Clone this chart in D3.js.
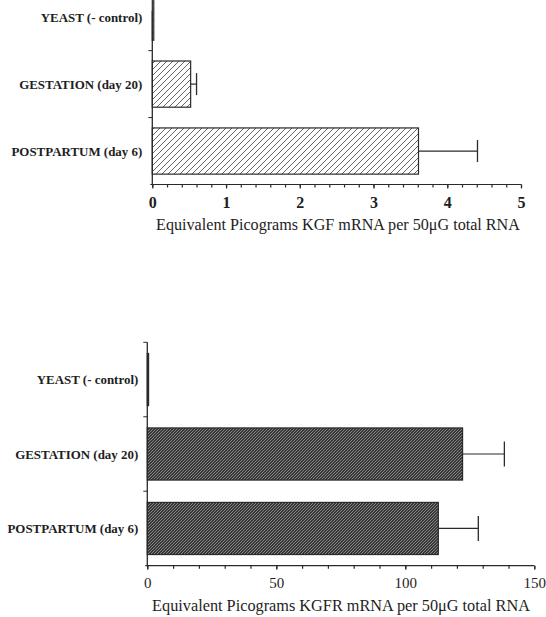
<!DOCTYPE html>
<html>
<head>
<meta charset="utf-8">
<script src="https://cdn.jsdelivr.net/npm/d3@7/dist/d3.min.js"></script>
<style>
  html, body { margin: 0; padding: 0; background: #ffffff; }
  svg { display: block; }
  text { font-family: "Liberation Serif", "Times New Roman", serif; fill: #1e1e1e; }
</style>
</head>
<body>
<svg id="chart" width="546" height="617"></svg>
<script>
// ---------------- data ----------------
const categories = ["YEAST (- control)", "GESTATION (day 20)", "POSTPARTUM (day 6)"];
const kgfValues  = [0.02, 0.52, 3.61];
const kgfErrors  = [0, 0.08, 0.80];
const kgfrValues = [0.5, 122.2, 112.8];
const kgfrErrors = [0, 16.2, 15.5];
const kgfTicks   = [0, 1, 2, 3, 4, 5];
const kgfrTicks  = [0, 50, 100, 150];
const kgfTitle   = "Equivalent Picograms KGF mRNA per 50\u03bcG total RNA";
const kgfrTitle  = "Equivalent Picograms KGFR mRNA per 50\u03bcG total RNA";

const svg = d3.select("#chart");
const ink = "#2a2a2a";

// ---------------- patterns ----------------
const defs = svg.append("defs");
const p1 = defs.append("pattern").attr("id", "hatchLight")
  .attr("patternUnits", "userSpaceOnUse").attr("width", 6).attr("height", 6);
p1.append("rect").attr("width", 6).attr("height", 6).attr("fill", "#ffffff");
p1.append("path").attr("d", "M0,6 L6,0 M-1,1 L1,-1 M5,7 L7,5")
  .attr("stroke", "#555").attr("stroke-width", 0.9);

const p2 = defs.append("pattern").attr("id", "hatchDark")
  .attr("patternUnits", "userSpaceOnUse").attr("width", 3).attr("height", 3);
p2.append("rect").attr("width", 3).attr("height", 3).attr("fill", "#383838");
p2.append("path").attr("d", "M0,3 L3,0 M-1,1 L1,-1 M2,4 L4,2")
  .attr("stroke", "#8c8c8c").attr("stroke-width", 0.9);

function fitFont(sel, targetWidth, base) {
  const w = sel.node().getComputedTextLength();
  sel.attr("font-size", base * targetWidth / w);
}

function panel(cfg) {
  const x = d3.scaleLinear().domain(cfg.xDomain).range(cfg.xRange);
  const y = d3.scaleBand().domain(categories).range(cfg.yRange).paddingInner(0).paddingOuter(0);
  const bw = y.bandwidth();
  const barH = bw * cfg.barFrac;
  const g = svg.append("g");
  const data = categories.map((c, i) => ({ c, v: cfg.values[i], e: cfg.errors[i] }));

  // bars
  g.selectAll("rect.bar").data(data).join("rect")
    .attr("class", "bar")
    .attr("x", x(0))
    .attr("y", d => y(d.c) + (bw - barH) / 2)
    .attr("width", d => x(d.v) - x(0))
    .attr("height", barH)
    .attr("fill", cfg.fill)
    .attr("stroke", ink).attr("stroke-width", 1.2);

  // error bars
  const eb = data.filter(d => d.e > 0);
  g.selectAll("line.err").data(eb).join("line")
    .attr("x1", d => x(d.v)).attr("x2", d => x(d.v + d.e))
    .attr("y1", d => y(d.c) + bw / 2).attr("y2", d => y(d.c) + bw / 2)
    .attr("stroke", ink).attr("stroke-width", 1.2);
  g.selectAll("line.cap").data(eb).join("line")
    .attr("x1", d => x(d.v + d.e)).attr("x2", d => x(d.v + d.e))
    .attr("y1", d => y(d.c) + bw / 2 - cfg.cap).attr("y2", d => y(d.c) + bw / 2 + cfg.cap)
    .attr("stroke", ink).attr("stroke-width", 1.3);

  // y axis line and separator ticks
  const y0 = cfg.yLineTop;
  const yB = cfg.yRange[1];
  g.append("line").attr("x1", x(0)).attr("x2", x(0)).attr("y1", y0).attr("y2", yB)
    .attr("stroke", ink).attr("stroke-width", 1.3);
  const seps = categories.map(c => y(c)).filter(v => v >= y0 - 1);
  g.selectAll("line.sep").data(seps).join("line")
    .attr("x1", x(0) - 4).attr("x2", x(0)).attr("y1", d => d).attr("y2", d => d)
    .attr("stroke", ink).attr("stroke-width", 1);

  // category labels
  const labs = g.selectAll("text.cat").data(categories).join("text")
    .attr("class", "cat")
    .attr("x", x(0) - cfg.labelGap)
    .attr("y", d => y(d) + bw / 2)
    .attr("dy", "0.35em")
    .attr("text-anchor", "end")
    .attr("font-weight", "bold")
    .attr("font-size", 12)
    .text(d => d);
  const longest = labs.filter(d => d === categories[2]);
  const w = longest.node().getComputedTextLength();
  labs.attr("font-size", 12 * cfg.labelWidth / w);

  // x axis
  const ax = g.append("g").attr("transform", `translate(0,${yB})`);
  const minor = d3.range(cfg.xDomain[0], cfg.xDomain[1] + 1e-9, cfg.minorStep);
  ax.append("g").call(d3.axisBottom(x).tickValues(minor).tickSize(3).tickFormat(""))
    .call(s => s.select(".domain").remove());
  ax.append("g").call(d3.axisBottom(x).tickValues(cfg.ticks).tickFormat(d3.format("d"))
      .tickSizeInner(4).tickSizeOuter(0).tickPadding(cfg.tickPad))
    .call(s => s.select(".domain").attr("d", `M${x(0) - 2},0H${cfg.xRange[1]}`));
  ax.selectAll("line, path").attr("stroke", ink).attr("stroke-width", 1.2);
  ax.selectAll("text")
    .style("font-family", "\"Liberation Serif\", serif")
    .attr("font-size", cfg.tickFont)
    .attr("font-weight", cfg.tickBold ? "bold" : "normal")
    .attr("fill", "#1e1e1e");

  // title
  const t = g.append("text")
    .attr("x", cfg.titleX).attr("y", cfg.titleY)
    .attr("text-anchor", "middle")
    .attr("font-size", 13)
    .text(cfg.title);
  fitFont(t, cfg.titleWidth, 13);
}

panel({
  xDomain: [0, 5], xRange: [152.3, 521],
  yRange: [-16.3, 184.5], yLineTop: 10.7, barFrac: 0.69,
  values: kgfValues, errors: kgfErrors, fill: "url(#hatchLight)", cap: 11,
  ticks: kgfTicks, minorStep: 0.2, tickFont: 16, tickBold: true, tickPad: 8,
  labelGap: 10, labelWidth: 131,
  title: kgfTitle, titleX: 338, titleY: 229.5, titleWidth: 364
});

panel({
  xDomain: [0, 150], xRange: [147.3, 534.3],
  yRange: [342.3, 565.7], yLineTop: 342.3, barFrac: 0.70,
  values: kgfrValues, errors: kgfrErrors, fill: "url(#hatchDark)", cap: 12.5,
  ticks: kgfrTicks, minorStep: 10, tickFont: 15, tickBold: false, tickPad: 8,
  labelGap: 9, labelWidth: 131,
  title: kgfrTitle, titleX: 341, titleY: 611, titleWidth: 378
});
</script>
</body>
</html>
